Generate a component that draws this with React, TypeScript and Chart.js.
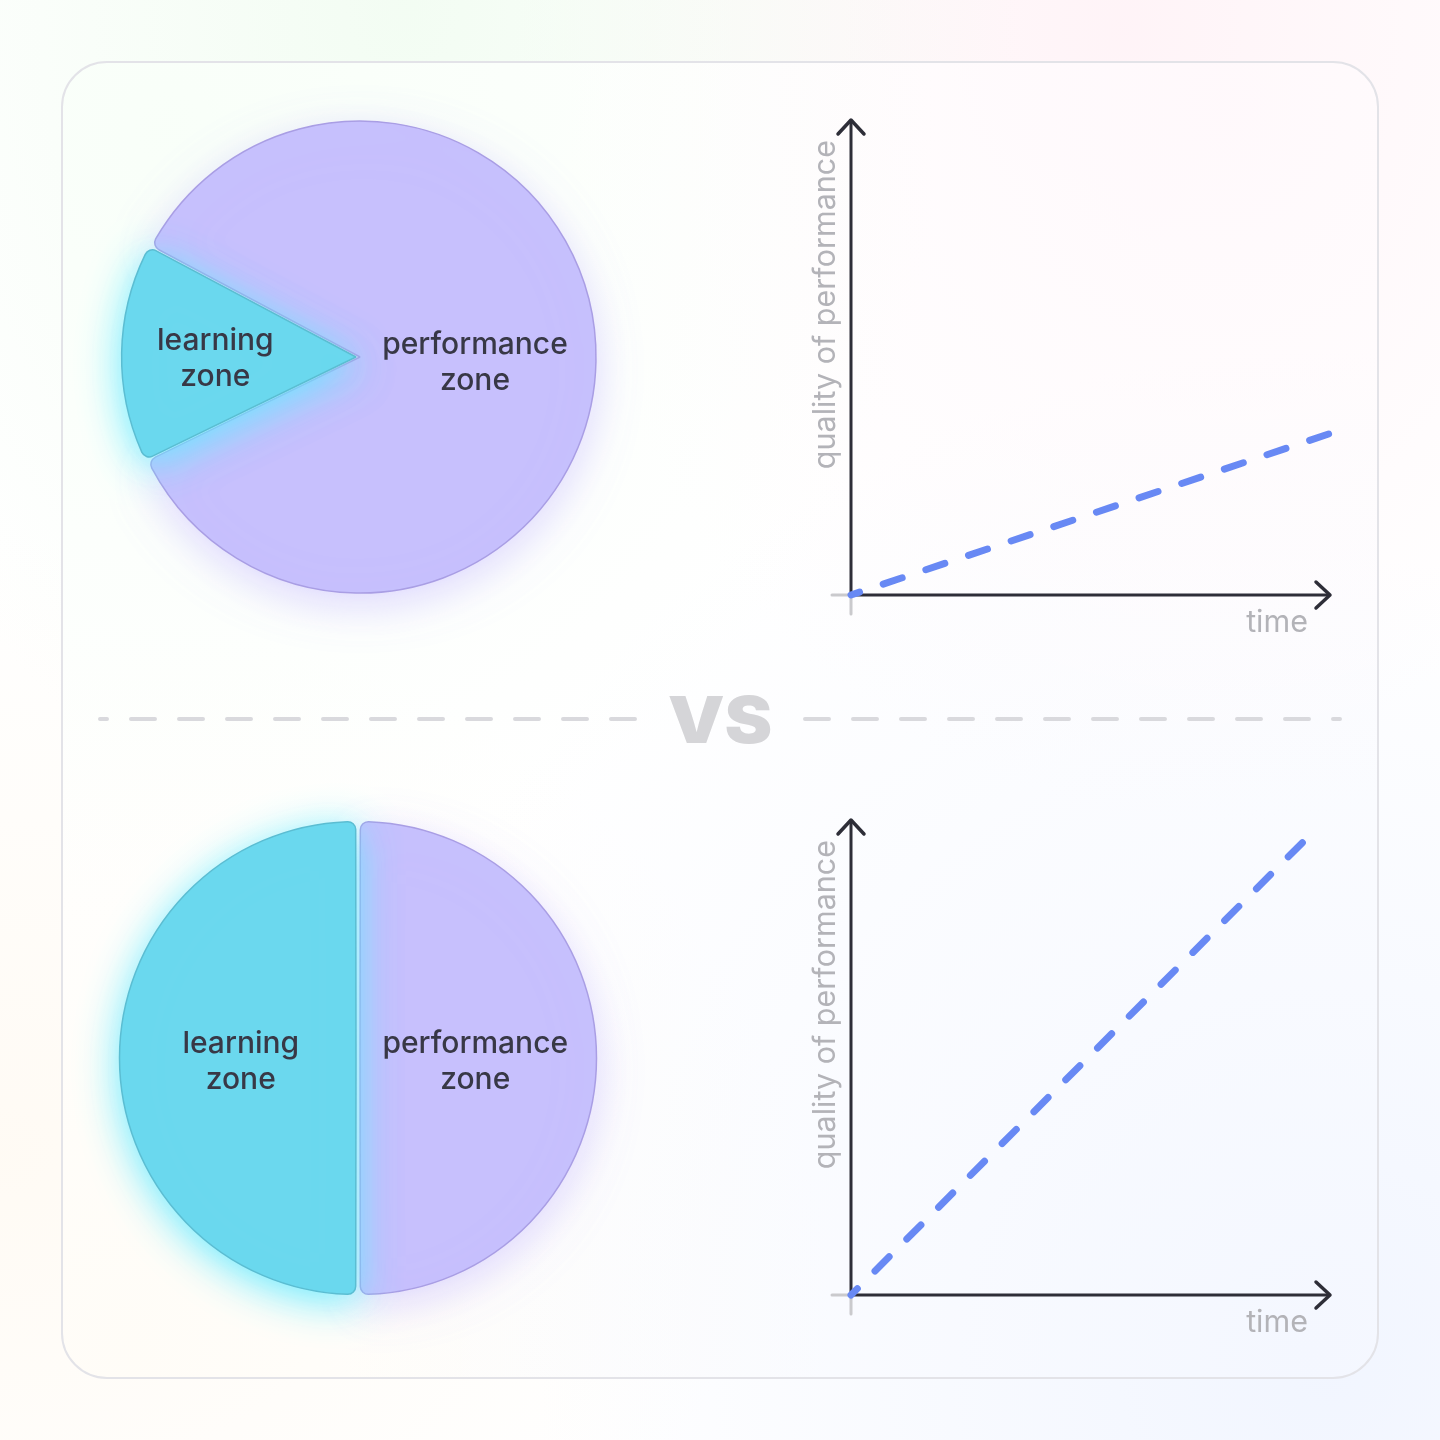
import React, { useEffect, useRef } from "react";
import { Chart, registerables } from "chart.js";

Chart.register(...registerables);

// ---- data ----
const zoneLabels = ["performance zone", "learning zone"];
const topPieShares = [85, 15];
const bottomPieShares = [50, 50];
const timeTop = [0, 100];
const qualityTop = [0, 34];
const timeBottom = [0, 95];
const qualityBottom = [0, 96];
const axisMin = 0;
const axisMax = 100;
const xAxisTitle = "time";
const yAxisTitle = "quality of performance";
const vsText = "VS";

// ---- styles ----
const FONT = "Inter, 'Noto Sans', sans-serif";
const SLICE_FILL = ["#c7c0fd", "#6bd8ee"];
const SLICE_BORDER = ["#a99ee4", "#5bbdd2"];
const SLICE_GLOW = ["rgba(196,184,255,0.55)", "rgba(100,235,255,0.95)"];
const GLOW_OFFSET = [12, 8];
const LINE_COLOR = "#6889f4";
const AXIS_COLOR = "#2e2e38";

const pieGlowPlugin = {
  id: "pieGlow",
  beforeDatasetsDraw(chart: any) {
    const ctx = chart.ctx;
    const meta = chart.getDatasetMeta(0);
    meta.data.forEach((arc: any, i: number) => {
      ctx.save();
      ctx.shadowColor = SLICE_GLOW[i];
      ctx.shadowBlur = 40;
      ctx.shadowOffsetY = GLOW_OFFSET[i];
      arc.draw(ctx);
      ctx.restore();
    });
    return false;
  },
  afterDraw(chart: any) {
    const ctx = chart.ctx;
    const meta = chart.getDatasetMeta(0);
    const labels = chart.data.labels as string[];
    ctx.save();
    ctx.fillStyle = "#383846";
    ctx.font = `500 30px ${FONT}`;
    ctx.textAlign = "center";
    ctx.textBaseline = "middle";
    meta.data.forEach((arc: any, i: number) => {
      const p = arc.getProps(["x", "y", "startAngle", "endAngle", "outerRadius", "circumference"], true);
      const frac = p.circumference / (Math.PI * 2);
      const mid = (p.startAngle + p.endAngle) / 2;
      const k = frac < 0.25 ? 0.61 : 0.5;
      const lx = p.x + Math.cos(mid) * p.outerRadius * k;
      const ly = p.y + Math.sin(mid) * p.outerRadius * k + 4;
      const lines = labels[i].split(" ");
      lines.forEach((t, j) => {
        ctx.fillText(t, lx, ly + (j - (lines.length - 1) / 2) * 36);
      });
    });
    ctx.restore();
  },
};

const arrowAxesPlugin = {
  id: "arrowAxes",
  beforeDatasetsDraw(chart: any) {
    const { ctx } = chart;
    const x = chart.scales.x;
    const y = chart.scales.y;
    const x0 = x.getPixelForValue(axisMin);
    const x1 = x.getPixelForValue(axisMax);
    const y0 = y.getPixelForValue(axisMin);
    const y1 = y.getPixelForValue(axisMax);
    ctx.save();
    // light tick stubs at the origin
    ctx.strokeStyle = "#cacacd";
    ctx.lineWidth = 3;
    ctx.lineCap = "round";
    ctx.beginPath();
    ctx.moveTo(x0 - 19, y0);
    ctx.lineTo(x0, y0);
    ctx.moveTo(x0, y0);
    ctx.lineTo(x0, y0 + 19);
    ctx.stroke();
    // axes
    ctx.strokeStyle = AXIS_COLOR;
    ctx.lineWidth = 3;
    ctx.lineCap = "butt";
    ctx.beginPath();
    ctx.moveTo(x0 - 1.5, y0);
    ctx.lineTo(x1, y0);
    ctx.moveTo(x0, y0 + 1.5);
    ctx.lineTo(x0, y1);
    ctx.stroke();
    // arrow heads
    ctx.lineCap = "round";
    ctx.lineJoin = "round";
    ctx.lineWidth = 3.5;
    ctx.beginPath();
    ctx.moveTo(x1 - 14, y0 - 13);
    ctx.lineTo(x1, y0);
    ctx.lineTo(x1 - 14, y0 + 13);
    ctx.moveTo(x0 - 13, y1 + 14);
    ctx.lineTo(x0, y1);
    ctx.lineTo(x0 + 13, y1 + 14);
    ctx.stroke();
    // titles
    ctx.fillStyle = "#b3b3b8";
    ctx.font = `400 30.5px ${FONT}`;
    ctx.textAlign = "right";
    ctx.textBaseline = "alphabetic";
    ctx.fillText(xAxisTitle, x1 - 22, y0 + 37);
    ctx.translate(x0 - 16, y1 + 20);
    ctx.rotate(-Math.PI / 2);
    ctx.fillText(yAxisTitle, 0, 0);
    ctx.restore();
  },
};

function PieZone(props: { shares: number[]; rotation: number; offset: number; radius: number; left: number; top: number }) {
  const ref = useRef<HTMLCanvasElement>(null);
  useEffect(() => {
    if (!ref.current) return;
    const chart = new Chart(ref.current, {
      type: "pie",
      data: {
        labels: zoneLabels,
        datasets: [
          {
            data: props.shares,
            backgroundColor: SLICE_FILL,
            borderColor: SLICE_BORDER,
            borderWidth: 1.5,
            borderRadius: 8,
            offset: props.offset,
          },
        ],
      },
      options: {
        responsive: false,
        animation: false,
        devicePixelRatio: 1,
        radius: props.radius,
        rotation: props.rotation,
        layout: { padding: 0 },
        events: [],
        plugins: { legend: { display: false }, tooltip: { enabled: false } },
      } as any,
      plugins: [pieGlowPlugin as any],
    });
    return () => chart.destroy();
  }, []);
  return (
    <canvas
      ref={ref}
      width={600}
      height={600}
      style={{ position: "absolute", left: props.left, top: props.top, width: 600, height: 600 }}
    />
  );
}

function GrowthChart(props: { xs: number[]; ys: number[]; left: number; top: number }) {
  const ref = useRef<HTMLCanvasElement>(null);
  useEffect(() => {
    if (!ref.current) return;
    const pts = props.xs.map((v, i) => ({ x: v, y: props.ys[i] }));
    const chart = new Chart(ref.current, {
      type: "line",
      data: {
        datasets: [
          {
            data: pts,
            borderColor: LINE_COLOR,
            borderWidth: 7,
            borderDash: [20, 25],
            borderDashOffset: 11,
            borderCapStyle: "round",
            pointRadius: 0,
            fill: false,
            clip: false,
          } as any,
        ],
      },
      options: {
        responsive: false,
        animation: false,
        devicePixelRatio: 1,
        events: [],
        layout: { padding: { left: 71, right: 70, top: 40, bottom: 85 } },
        scales: {
          x: { type: "linear", min: axisMin, max: axisMax, display: false },
          y: { type: "linear", min: axisMin, max: axisMax, display: false },
        },
        plugins: { legend: { display: false }, tooltip: { enabled: false } },
      } as any,
      plugins: [arrowAxesPlugin as any],
    });
    return () => chart.destroy();
  }, []);
  return (
    <canvas
      ref={ref}
      width={620}
      height={600}
      style={{ position: "absolute", left: props.left, top: props.top, width: 620, height: 600 }}
    />
  );
}

function Separator() {
  return (
    <svg width={1440} height={40} style={{ position: "absolute", left: 0, top: 699 }}>
      <line x1={635} y1={20} x2={100} y2={20} stroke="#d9d9dd" strokeWidth={4} strokeLinecap="round" strokeDasharray="24 24" />
      <line x1={805} y1={20} x2={1340} y2={20} stroke="#d9d9dd" strokeWidth={4} strokeLinecap="round" strokeDasharray="24 24" />
    </svg>
  );
}

export default function App() {
  return (
    <div
      style={{
        position: "absolute",
        left: 0,
        top: 0,
        width: 1440,
        height: 1440,
        overflow: "hidden",
        background:
          "radial-gradient(ellipse at 28% 0%, rgba(228,250,228,0.45), rgba(255,255,255,0) 42%)," +
          "radial-gradient(ellipse at 78% 2%, rgba(255,230,238,0.45), rgba(255,255,255,0) 38%)," +
          "radial-gradient(ellipse at 0% 80%, rgba(255,244,228,0.4), rgba(255,255,255,0) 38%)," +
          "radial-gradient(ellipse at 92% 95%, rgba(228,236,255,0.5), rgba(255,255,255,0) 42%)," +
          "#ffffff",
      }}
    >
      <div
        style={{
          position: "absolute",
          left: 61,
          top: 61,
          width: 1318,
          height: 1318,
          boxSizing: "border-box",
          border: "2px solid #e3e3e8",
          borderRadius: 46,
          background:
            "radial-gradient(ellipse at 8% 5%, rgba(248,255,248,0.9), rgba(255,255,255,0) 45%)," +
            "radial-gradient(ellipse at 88% 3%, rgba(255,248,251,0.9), rgba(255,255,255,0) 40%)," +
            "radial-gradient(ellipse at 95% 98%, rgba(244,247,255,1), rgba(255,255,255,0) 55%)," +
            "radial-gradient(ellipse at 5% 98%, rgba(255,252,246,0.9), rgba(255,255,255,0) 40%)," +
            "rgba(255,255,255,0.9)",
        }}
      />
      <Separator />
      <div
        style={{
          position: "absolute",
          left: 620,
          width: 200,
          top: 680,
          height: 80,
          lineHeight: "80px",
          textAlign: "center",
          fontFamily: FONT,
          fontWeight: 900,
          fontSize: 64,
          color: "#d5d5d8",
          transform: "scaleX(1.12)",
        }}
      >
        {vsText}
      </div>
      <PieZone shares={topPieShares} rotation={298} offset={8} radius={234} left={58} top={57} />
      <PieZone shares={bottomPieShares} rotation={0} offset={8} radius={234.5} left={58} top={758} />
      <GrowthChart xs={timeTop} ys={qualityTop} left={780} top={80} />
      <GrowthChart xs={timeBottom} ys={qualityBottom} left={780} top={780} />
    </div>
  );
}
